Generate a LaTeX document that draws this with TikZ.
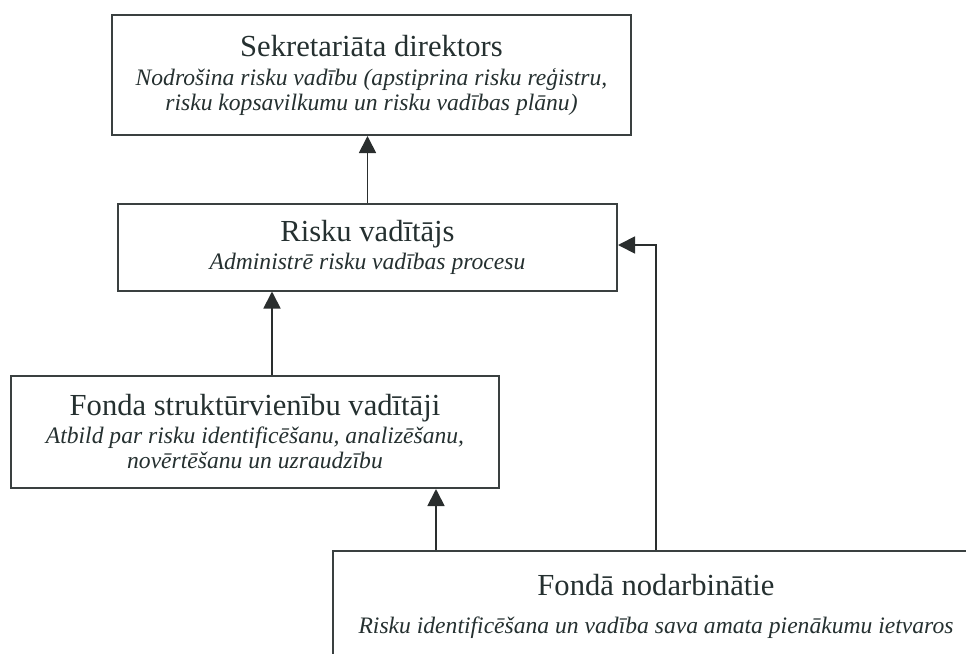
\documentclass[tikz,border=0pt]{standalone}
\usepackage{fontspec}
\setmainfont{Liberation Serif}
\usetikzlibrary{positioning, arrows.meta}
\definecolor{orgLine}{HTML}{3A4040}
\definecolor{orgArrow}{HTML}{2A2E2E}
\definecolor{orgText}{HTML}{253030}
\newcommand{\orgtitle}[1]{{\upshape\fontsize{15.3}{18}\selectfont #1}}

\begin{document}
\begin{tikzpicture}[x=0.5pt, y=-0.5pt,
  every node/.style={align=center, inner sep=0pt, text=orgText},
  orgbox/.style={
    rectangle, draw=orgLine, line width=1pt, fill=white,
    font=\fontsize{11.8}{12.5}\selectfont\itshape
  },
  arrow/.style={-{Triangle[length=8.5pt, width=8.5pt]}, line width=0.9pt, draw=orgArrow}
]
 % Canvas in scan pixels (966 x 654, y grows downward)
 \useasboundingbox (0,0) rectangle (966,654);
 \clip (0,0) rectangle (966,654);

 % Level 1
 \node[orgbox, minimum width=259.5pt, minimum height=60pt] (dir) at (371.5,75)
   {\orgtitle{Sekretariāta direktors}\\[2pt]
    Nodrošina risku vadību (apstiprina risku reģistru,\\
    risku kopsavilkumu un risku vadības plānu)};

 % Level 2
 \node[orgbox, minimum width=249.5pt, minimum height=43.5pt] (mgr) at (367.5,247)
   {\orgtitle{Risku vadītājs}\\[1.5pt]
    Administrē risku vadības procesu};

 % Level 3
 \node[orgbox, minimum width=244pt, minimum height=56pt] (heads) at (255,432)
   {\orgtitle{Fonda struktūrvienību vadītāji}\\[1.5pt]
    Atbild par risku identificēšanu, analizēšanu,\\
    novērtēšanu un uzraudzību};

 % Level 4 (runs off the page at right and bottom)
 \node[orgbox, minimum width=323pt, minimum height=55pt] (staff) at (656,606)
   {\orgtitle{Fondā nodarbinātie}\\[6.5pt]
    Risku identificēšana un vadība sava amata pienākumu ietvaros};

 % Reporting lines
 \draw[arrow] (mgr.north) -- (mgr.north |- dir.south);
 \draw[arrow] ([xshift=8.5pt]heads.north) -- ([xshift=8.5pt]heads.north |- mgr.south);
 \draw[arrow] ([xshift=52pt]staff.north west) -- ([xshift=52pt]staff.north west |- heads.south);
 \draw[arrow] (staff.north) |- ([yshift=1pt]mgr.east);
\end{tikzpicture}
\end{document}
